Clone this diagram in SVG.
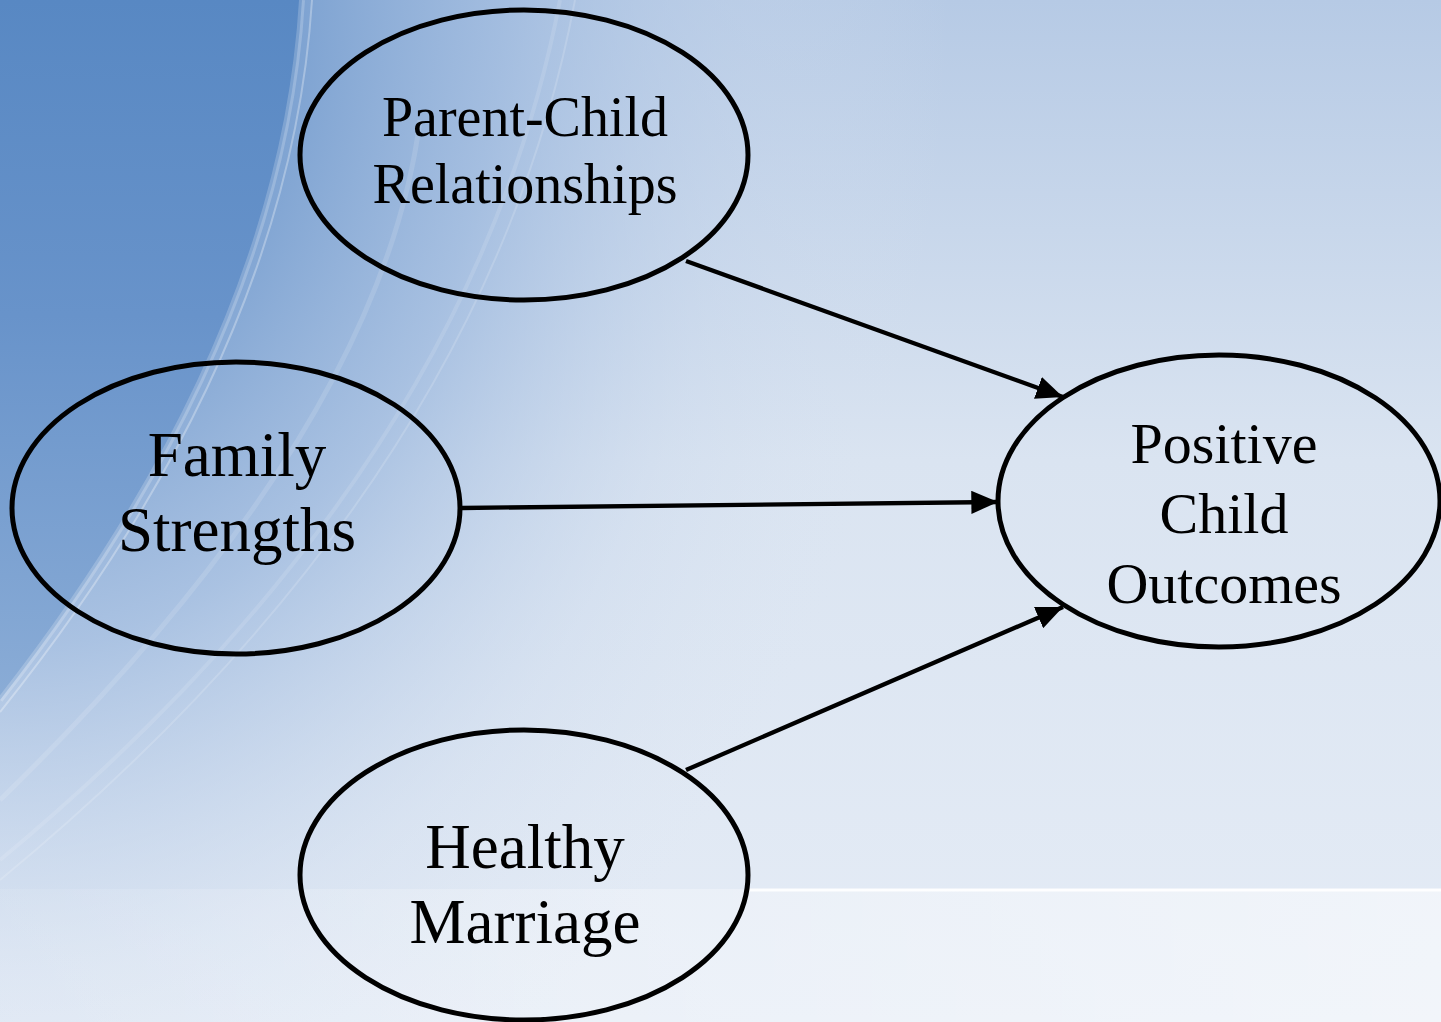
<svg xmlns="http://www.w3.org/2000/svg" width="1441" height="1022" viewBox="0 0 1441 1022">
<defs>
<linearGradient id="bgBase" x1="0" y1="0" x2="0" y2="1">
<stop offset="0" stop-color="#b6cae5"/>
<stop offset="0.45" stop-color="#dae4f1"/>
<stop offset="1" stop-color="#e5ecf6"/>
</linearGradient>
<radialGradient id="bgMid" gradientUnits="userSpaceOnUse" cx="0" cy="0" r="1000" gradientTransform="scale(1 1.3)">
<stop offset="0.28" stop-color="#7aa0d0" stop-opacity="1"/>
<stop offset="0.5" stop-color="#9db9de" stop-opacity="0.8"/>
<stop offset="0.75" stop-color="#c5d5eb" stop-opacity="0.3"/>
<stop offset="0.95" stop-color="#dae4f1" stop-opacity="0"/>
</radialGradient>
<linearGradient id="bgDark" gradientUnits="userSpaceOnUse" x1="0" y1="0" x2="0" y2="700">
<stop offset="0" stop-color="#5888c3"/>
<stop offset="0.45" stop-color="#6893ca"/>
<stop offset="1" stop-color="#8aacd6"/>
</linearGradient>
<linearGradient id="strip" x1="0" y1="0" x2="1" y2="0">
<stop offset="0" stop-color="#ffffff" stop-opacity="0.08"/>
<stop offset="0.5" stop-color="#ffffff" stop-opacity="0.3"/>
<stop offset="1" stop-color="#ffffff" stop-opacity="0.5"/>
</linearGradient>
<marker id="arrow" markerWidth="6.2" markerHeight="5.4" refX="6.2" refY="2.7" orient="auto" markerUnits="strokeWidth">
<path d="M0,0 L6.2,2.7 L0,5.4 z" fill="#000"/>
</marker>
<style>
.node ellipse{fill:none;stroke:#000;stroke-width:5}
.node text{font-family:"Liberation Serif","Times New Roman",serif;fill:#000;text-anchor:middle}
.edge{stroke:#000;stroke-width:4.3;fill:none;marker-end:url(#arrow)}
.streak{fill:none;stroke:#ffffff}
</style>
</defs>
<rect x="0" y="0" width="1441" height="1022" fill="url(#bgBase)"/>
<rect x="0" y="0" width="1441" height="1022" fill="url(#bgMid)"/>
<path d="M0 0 L302 0 Q282 340 0 700 Z" fill="url(#bgDark)"/>
<g id="streaks">
<path class="streak" d="M302 0 Q282 340 0 700" stroke-width="6" stroke-opacity="0.2"/>
<path class="streak" d="M312 0 Q290 350 0 712" stroke-width="2" stroke-opacity="0.3"/>
<path class="streak" d="M420 120 Q380 430 0 800" stroke-width="5" stroke-opacity="0.13"/>
<path class="streak" d="M560 0 Q470 470 0 860" stroke-width="4" stroke-opacity="0.12"/>
<path class="streak" d="M575 0 Q485 480 0 880" stroke-width="2" stroke-opacity="0.16"/>
</g>
<rect x="0" y="889" width="1441" height="133" fill="url(#strip)"/>
<line x1="745" y1="890" x2="1441" y2="890" stroke="#ffffff" stroke-width="3" stroke-opacity="0.9"/>
<g id="connectors">
<line class="edge" x1="686" y1="261" x2="1063" y2="397"/>
<line class="edge" x1="462" y1="508" x2="998" y2="502"/>
<line class="edge" x1="686" y1="770" x2="1063" y2="607"/>
</g>
<g id="parent-child" class="node">
<ellipse cx="524" cy="155" rx="224" ry="145"/>
<text x="525" y="136" font-size="56">Parent-Child</text>
<text x="525" y="203" font-size="56">Relationships</text>
</g>
<g id="family-strengths" class="node">
<ellipse cx="236" cy="508" rx="224" ry="146"/>
<text x="237" y="476" font-size="63">Family</text>
<text x="237" y="551" font-size="63">Strengths</text>
</g>
<g id="positive-child-outcomes" class="node">
<ellipse cx="1219" cy="501" rx="221" ry="146"/>
<text x="1224" y="463" font-size="58">Positive</text>
<text x="1224" y="533" font-size="58">Child</text>
<text x="1224" y="603" font-size="58">Outcomes</text>
</g>
<g id="healthy-marriage" class="node">
<ellipse cx="524" cy="875" rx="224" ry="145"/>
<text x="525" y="868" font-size="63">Healthy</text>
<text x="525" y="943" font-size="63">Marriage</text>
</g>
</svg>
